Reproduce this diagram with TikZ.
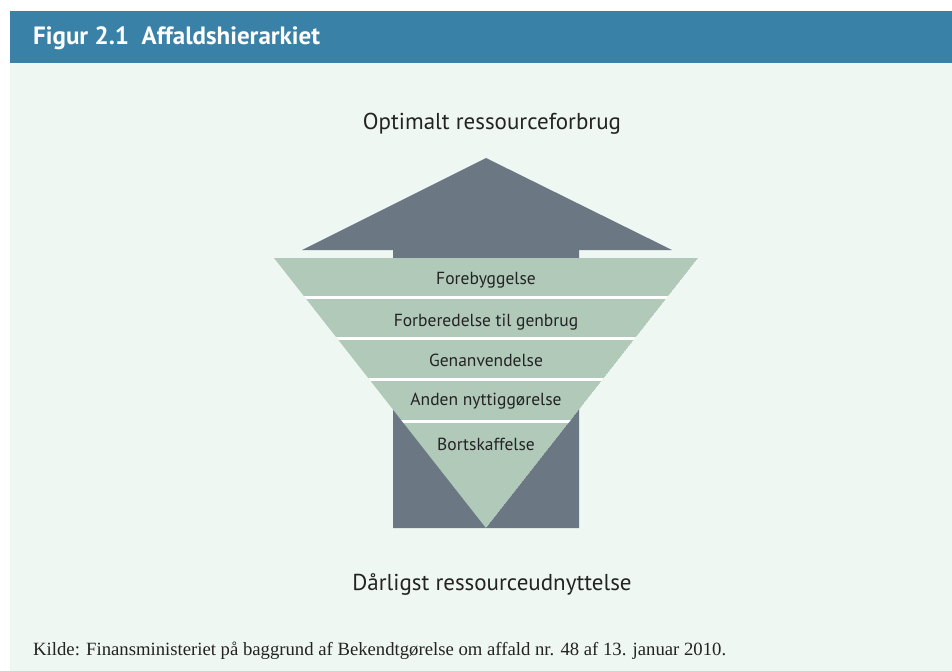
\documentclass[tikz,border=0pt]{standalone}
\usepackage{fontspec}
\setmainfont{Liberation Serif}
\newfontfamily\figfont{PT Sans}
\usetikzlibrary{calc}
\definecolor{BarBlue}{RGB}{57,129,167}
\definecolor{PanelMint}{RGB}{239,247,243}
\definecolor{ArrowGrey}{RGB}{107,120,131}
\definecolor{FunnelGreen}{RGB}{176,201,185}
\definecolor{InkDark}{RGB}{35,35,35}
\newcommand{\BandSize}{\fontsize{17.5}{21}\selectfont}
\newcommand{\EndSize}{\fontsize{23}{27}\selectfont}
\tikzset{BandLabel/.style={
    inner sep=0pt,
    text=InkDark,
    font=\figfont\BandSize,
    anchor=center
    }
}
\tikzset{EndLabel/.style={
    inner sep=0pt,
    text=InkDark,
    font=\figfont\EndSize,
    anchor=center
    }
}
\tikzset{HeadLabel/.style={
    inner sep=0pt,
    text=white,
    font=\figfont\bfseries\fontsize{25}{29}\selectfont,
    anchor=west
    }
}
\tikzset{SourceLabel/.style={
    inner sep=0pt,
    text=InkDark,
    font=\fontsize{18.7}{22}\selectfont,
    anchor=west
    }
}
\begin{document}
\begin{tikzpicture}[x=1pt, y=-1pt]

    \useasboundingbox (0,0) rectangle (952,671);
    \fill[white] (0,0) rectangle (952,671);
    \fill[PanelMint] (10,63) rectangle (952,671);
    \fill[BarBlue] (10,11) rectangle (952,63);

    \node (head) [HeadLabel] at (33,38) {Figur 2.1\ \ Affaldshierarkiet};

    % arrow behind the funnel
    \fill[ArrowGrey] (393,528) -- (393,250) -- (302,250) -- (486,158)
        -- (672,250) -- (579,250) -- (579,528) -- cycle;

    % funnel with white gaps between the bands
    \begin{scope}
        \clip (274,258) -- (698,258) -- (486,528) -- cycle;
        \fill[FunnelGreen] (274,258) -- (698,258) -- (486,528) -- cycle;
        \foreach \y in {297.5, 338.5, 379.5, 421}
            \draw[white, line width=3pt] (250,\y) -- (720,\y);
    \end{scope}

    \node (b1) [BandLabel] at (486,280) {Forebyggelse};
    \node (b2) [BandLabel] at (486,322) {Forberedelse til genbrug};
    \node (b3) [BandLabel] at (486,360) {Genanvendelse};
    \node (b4) [BandLabel] at (486,401) {Anden nyttiggørelse};
    \node (b5) [BandLabel] at (486,444) {Bortskaffelse};

    \node (top) [EndLabel] at (492,124) {Optimalt ressourceforbrug};
    \node (bottom) [EndLabel] at (492,584) {Dårligst ressourceudnyttelse};

    \node (src) [SourceLabel] at (33,651) {Kilde: Finansministeriet på baggrund af Bekendtgørelse om affald nr. 48 af 13. januar 2010.};

\end{tikzpicture}
\end{document}
